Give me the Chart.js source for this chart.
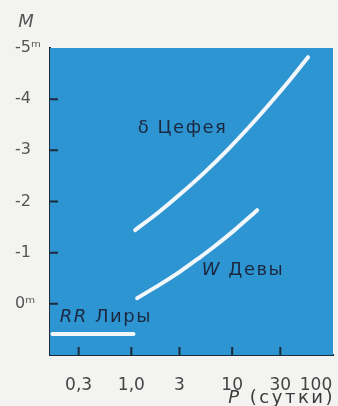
<!DOCTYPE html>
<html lang="ru">
<head>
    <meta charset="UTF-8">
    <title>Период — светимость</title>
    <script src="https://cdn.jsdelivr.net/npm/chart.js"></script>
    <style>
        body {
            margin: 0;
            background: #f3f3f1;
        }

        #wrap {
            position: relative;
            width: 338px;
            height: 406px;
        }
    </style>
</head>
<body>
    <div id="wrap"><canvas id="plChart"></canvas></div>
    <script>
        // период (сутки) и абсолютная величина
        const cepheidP = [1.09, 1.84, 3.04, 5.26, 8.9, 15.1, 23.8, 37.5, 56.6];
        const cepheidM = [-1.44, -1.78, -2.14, -2.56, -3.0, -3.48, -3.92, -4.38, -4.82];
        const virginisP = [1.14, 1.93, 3.04, 4.8, 6.46, 10.7, 17.7];
        const virginisM = [-0.11, -0.38, -0.63, -0.91, -1.1, -1.45, -1.83];
        const lyraeP = [0.165, 1.05];
        const lyraeM = [0.59, 0.59];

        // деления осей
        const periodTicks = [0.3, 1, 3, 10, 30, 100];
        const periodLabels = ['0,3', '1,0', '3', '10', '30', '100\u2003\u2003'];
        const magTicks = [-5, -4, -3, -2, -1, 0];
        const magLabels = ['-5ᵐ', '-4', '-3', '-2', '-1', '0ᵐ'];

        // подписи кривых
        const seriesNames = [['δ ', 'Цефея'], ['W', ' Девы'], ['RR', ' Лиры']];
        const nameP = [1.16, 5.0, 0.195];
        const nameM = [-3.43, -0.66, 0.26];
        const nameItalic = [false, true, true];

        const toPts = (xs, ys) => xs.map((x, i) => ({ x: x, y: ys[i] }));

        const lineStyle = {
            showLine: true,
            borderColor: '#f1f7fb',
            borderWidth: 4,
            borderCapStyle: 'round',
            pointRadius: 0,
            tension: 0.3
        };

        // фон области графика, засечки внутрь и подписи
        const decor = {
            id: 'decor',
            beforeDatasetsDraw(chart) {
                const a = chart.chartArea;
                const ctx = chart.ctx;
                ctx.save();
                ctx.fillStyle = '#2e95d3';
                ctx.fillRect(a.left, a.top, a.right - a.left, a.bottom - a.top);
                ctx.restore();
            },
            afterDatasetsDraw(chart) {
                const a = chart.chartArea;
                const ctx = chart.ctx;
                const xs = chart.scales.x;
                const ys = chart.scales.y;
                ctx.save();
                ctx.strokeStyle = '#1c2a3a';
                ctx.lineWidth = 2;
                ctx.beginPath();
                magTicks.forEach(v => {
                    const y = ys.getPixelForValue(v);
                    if (y > a.top + 2) {
                        ctx.moveTo(a.left, y);
                        ctx.lineTo(a.left + 8, y);
                    }
                });
                periodTicks.forEach(v => {
                    const x = xs.getPixelForValue(v);
                    if (x < a.right - 2) {
                        ctx.moveTo(x, a.bottom);
                        ctx.lineTo(x, a.bottom - 8);
                    }
                });
                ctx.stroke();

                // подписи кривых
                ctx.fillStyle = '#1b2940';
                ctx.textBaseline = 'middle';
                ctx.letterSpacing = '1.5px';
                seriesNames.forEach((parts, i) => {
                    let x = xs.getPixelForValue(nameP[i]);
                    const y = ys.getPixelForValue(nameM[i]);
                    ctx.font = (nameItalic[i] ? 'italic ' : '') + '18px "DejaVu Sans"';
                    ctx.fillText(parts[0], x, y);
                    x += ctx.measureText(parts[0]).width;
                    ctx.font = '18px "DejaVu Sans"';
                    ctx.fillText(parts[1], x, y);
                });

                // названия осей
                ctx.letterSpacing = '0px';
                ctx.fillStyle = '#555';
                ctx.font = 'italic 18px "DejaVu Sans"';
                ctx.textAlign = 'center';
                ctx.fillText('M', a.left - 24, a.top - 26);

                ctx.fillStyle = '#3a3a3a';
                ctx.letterSpacing = '2.5px';
                ctx.textAlign = 'right';
                ctx.font = '18px "DejaVu Sans"';
                const rest = ' (сутки)';
                ctx.fillText(rest, a.right + 2, 398);
                const w = ctx.measureText(rest).width;
                ctx.font = 'italic 18px "DejaVu Sans"';
                ctx.fillText('P', a.right + 2 - w, 398);
                ctx.restore();
            }
        };

        const ctx = document.getElementById('plChart').getContext('2d');
        const plChart = new Chart(ctx, {
            type: 'scatter',
            data: {
                datasets: [
                    Object.assign({ label: 'δ Цефея', data: toPts(cepheidP, cepheidM) }, lineStyle),
                    Object.assign({ label: 'W Девы', data: toPts(virginisP, virginisM) }, lineStyle),
                    Object.assign({ label: 'RR Лиры', data: toPts(lyraeP, lyraeM) }, lineStyle)
                ]
            },
            options: {
                responsive: true,
                maintainAspectRatio: false,
                animation: false,
                events: [],
                layout: { padding: { left: 15, top: 48, right: 5, bottom: 0 } },
                plugins: {
                    legend: { display: false },
                    tooltip: { enabled: false }
                },
                scales: {
                    x: {
                        type: 'logarithmic',
                        min: 0.156,
                        max: 100,
                        grid: { display: false },
                        border: { display: true, color: '#1c2a3a', width: 2 },
                        afterBuildTicks: s => { s.ticks = periodTicks.map(v => ({ value: v })); },
                        afterFit: s => { s.height = 51; s.paddingLeft = 0; s.paddingRight = 0; },
                        ticks: {
                            autoSkip: false,
                            maxRotation: 0,
                            padding: 12,
                            color: '#444',
                            font: { family: 'DejaVu Sans', size: 17 },
                            callback: (v, i) => periodLabels[i]
                        }
                    },
                    y: {
                        reverse: true,
                        min: -5,
                        max: 1,
                        grid: { display: false },
                        border: { display: true, color: '#1c2a3a', width: 2 },
                        afterBuildTicks: s => { s.ticks = magTicks.map(v => ({ value: v })); },
                        afterFit: s => { s.width = 35; },
                        ticks: {
                            crossAlign: 'far',
                            color: '#555',
                            font: { family: 'DejaVu Sans', size: 16 },
                            callback: (v, i) => magLabels[i]
                        }
                    }
                }
            },
            plugins: [decor]
        });
    </script>
</body>
</html>
